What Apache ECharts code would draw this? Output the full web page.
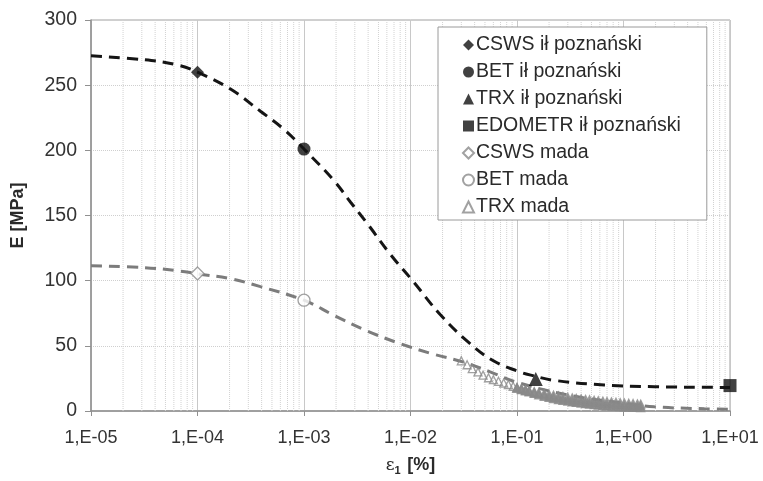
<!DOCTYPE html>
<html><head><meta charset="utf-8">
<script src="https://cdn.jsdelivr.net/npm/echarts@6/dist/echarts.min.js"></script>
<style>html,body{margin:0;padding:0;background:#fff}#c{width:763px;height:481px}</style>
</head><body><div id="c"></div>
<script>
// ---- data ----
const xTickLabels = ['1,E-05','1,E-04','1,E-03','1,E-02','1,E-01','1,E+00','1,E+01'];
const yTicks = [0,50,100,150,200,250,300];

// fitted curve, ił poznański (black dashed)
const fitIlStrain = [1e-5,3.16e-5,6.5e-5,1e-4,2.04e-4,3.9e-4,6.5e-4,1e-3,1.9e-3,2.75e-3,4e-3,6.5e-3,0.0107,0.019,0.0347,0.06,0.102,0.135,0.224,0.66,1.95,8.3,10];
const fitIlE      = [272.5,269.5,265.5,260,247,230,216,201,177,160,143,120,99,74,53,38.5,30.5,27.5,23.5,20,18.6,18.1,18];

// fitted curve, mada (grey dashed)
const fitMadaStrain = [1e-5,3.16e-5,6.5e-5,1e-4,2.04e-4,3.9e-4,1e-3,1.9e-3,3.9e-3,8.1e-3,0.0166,0.0316,0.056,0.1,0.316,1,1.95,5.75,10];
const fitMadaE      = [111.5,110,107.6,105.3,101.5,95.4,85,73.5,61.5,51.5,43.5,37.5,30,22,12,6,3.2,1.7,1.3];

// point measurements
const cswsIl   = [[1e-4,260]];
const betIl    = [[1e-3,201]];
const trxIl    = [[0.15,24.5]];
const edoIl    = [[10,19.5]];
const cswsMada = [[1e-4,105.5]];
const betMada  = [[1e-3,85]];

// TRX mada (dense triaxial readings)
const trxMadaStrain = [0.030,0.034,0.038,0.043,0.048,0.054,0.060,0.067,0.075,0.083,0.092,0.10,0.11,0.12,0.13,0.145,0.16,0.18,0.20,0.22,0.245,0.27,0.30,0.33,0.36,0.40,0.44,0.48,0.53,0.58,0.64,0.70,0.77,0.85,0.93,1.02,1.12,1.23,1.35,1.45];
const trxMadaUpper  = [38.5,35.5,32.5,30,27.5,25.5,24,22.8,21.5,20.3,19,18,17.2,16.4,15.7,14.9,14.2,13.5,12.8,12.2,11.6,11.1,10.6,10.1,9.7,9.3,8.9,8.6,8.2,7.9,7.6,7.3,7.0,6.7,6.4,6.2,5.9,5.7,5.5,5.3];
const trxMadaMid    = [null,null,null,null,null,null,null,null,null,null,null,17.8,16.9,16,15.2,14.2,13.3,12.4,11.6,10.9,10.2,9.6,9.1,8.6,8.1,7.7,7.3,6.9,6.6,6.2,5.9,5.7,5.4,5.1,4.9,4.7,4.5,4.3,4.1,4.0];
const trxMadaLower  = [null,null,null,null,null,null,null,null,null,null,null,17.5,16.5,15.5,14.6,13.5,12.4,11.3,10.4,9.6,8.8,8.2,7.6,7.0,6.6,6.1,5.7,5.3,4.9,4.6,4.3,4.0,3.8,3.6,3.4,3.2,3.0,2.9,2.8,2.7];

// ---- build ----
function pairs(xs, ys){ const out=[]; xs.forEach((x,i)=>{ if(ys[i]!=null) out.push([x,ys[i]]); }); return out; }
// minor vertical gridlines (log 2..9 in each decade), drawn through the axis scale
const minorGrid = [];
for (let e=-5; e<1; e++) for (let m=2; m<=9; m++) {
  const v = m*Math.pow(10,e);
  minorGrid.push([v,0],[v,300],[v,'-']);
}

const FONT = 'Liberation Sans, Arial, sans-serif';
const GREY = '#8a8a8a';
const TXT = '#2a2a2a';
const chart = echarts.init(document.getElementById('c'));
chart.setOption({
  animation:false,
  backgroundColor:'#fff',
  grid:{left:91,right:33,top:20,bottom:68,show:true,borderColor:'#a0a0a0',borderWidth:1},
  legend:{
    orient:'vertical', left:438, top:27,
    data:['CSWS ił poznański','BET ił poznański','TRX ił poznański','EDOMETR ił poznański','CSWS mada','BET mada','TRX mada'],
    backgroundColor:'#fff', borderColor:'#9a9a9a', borderWidth:1,
    padding:[8,26,3,24], itemGap:7, itemWidth:11, itemHeight:11,
    textStyle:{fontFamily:FONT,fontSize:19.5,color:TXT,padding:[0,0,0,-3]}
  },
  xAxis:{
    type:'log', logBase:10, min:1e-5, max:10,
    name:'{e|ε}{s|1}  {t|[%]}', nameLocation:'middle', nameGap:44,
    nameTextStyle:{rich:{
      e:{fontFamily:'DejaVu Serif, serif',fontSize:17,color:TXT},
      s:{fontFamily:FONT,fontSize:11,fontWeight:'bold',color:TXT,padding:[10,0,0,0]},
      t:{fontFamily:FONT,fontSize:18,fontWeight:'bold',color:TXT}}},
    axisLine:{show:true,lineStyle:{color:'#909090',width:1.5}},
    axisTick:{show:true,length:5,lineStyle:{color:'#909090'}},
    axisLabel:{margin:18,fontFamily:FONT,fontSize:18,color:'#333',
      formatter:function(v){const e=Math.round(Math.log10(v));return xTickLabels[e+5]||'';}},
    splitLine:{show:true,lineStyle:{color:'#c8c8c8',width:1}}
  },
  yAxis:{
    type:'value', min:yTicks[0], max:yTicks[yTicks.length-1], interval:50,
    name:'E [MPa]', nameLocation:'middle', nameGap:64,
    nameTextStyle:{fontFamily:FONT,fontSize:18,fontWeight:'bold',color:TXT},
    axisLine:{show:true,lineStyle:{color:'#909090',width:1.5}},
    axisTick:{show:true,length:6,lineStyle:{color:'#909090'}},
    axisLabel:{margin:14,fontFamily:FONT,fontSize:19.5,color:'#333'},
    splitLine:{show:true,lineStyle:{color:'#cfcfcf',type:'dotted',width:1}}
  },
  series:[
    {name:'minorGrid',type:'line',data:minorGrid,showSymbol:false,silent:true,connectNulls:false,z:0,
     lineStyle:{color:'#d2d2d2',width:1,type:'dotted'}},
    {name:'fitIl',type:'line',data:pairs(fitIlStrain,fitIlE),smooth:0.4,showSymbol:false,silent:true,z:3,
     lineStyle:{color:'#151515',width:3,type:[11,7]}},
    {name:'fitMada',type:'line',data:pairs(fitMadaStrain,fitMadaE),smooth:0.4,showSymbol:false,silent:true,z:2,
     lineStyle:{color:'#7c7c7c',width:3,type:[11,7]}},
    {name:'TRX mada',type:'scatter',data:pairs(trxMadaStrain,trxMadaUpper),symbol:'triangle',symbolSize:8,z:4,
     itemStyle:{color:'rgba(255,255,255,0)',borderColor:GREY,borderWidth:1.3}},
    {name:'TRX mada',type:'scatter',data:pairs(trxMadaStrain,trxMadaMid),symbol:'triangle',symbolSize:8,z:4,
     itemStyle:{color:GREY,borderColor:GREY,borderWidth:1.3}},
    {name:'TRX mada',type:'scatter',data:pairs(trxMadaStrain,trxMadaLower),symbol:'triangle',symbolSize:8,z:4,
     itemStyle:{color:GREY,borderColor:GREY,borderWidth:1.3}},
    {name:'CSWS ił poznański',type:'scatter',data:cswsIl,symbol:'diamond',symbolSize:13,z:5,itemStyle:{color:'#111'}},
    {name:'BET ił poznański',type:'scatter',data:betIl,symbol:'circle',symbolSize:13,z:5,itemStyle:{color:'#111'}},
    {name:'TRX ił poznański',type:'scatter',data:trxIl,symbol:'triangle',symbolSize:14,z:5,itemStyle:{color:'#111'}},
    {name:'EDOMETR ił poznański',type:'scatter',data:edoIl,symbol:'rect',symbolSize:13,z:5,itemStyle:{color:'#111'}},
    {name:'CSWS mada',type:'scatter',data:cswsMada,symbol:'diamond',symbolSize:13,z:5,itemStyle:{color:'#fff',borderColor:GREY,borderWidth:1.3}},
    {name:'BET mada',type:'scatter',data:betMada,symbol:'circle',symbolSize:12,z:5,itemStyle:{color:'#fff',borderColor:GREY,borderWidth:1.3}}
  ]
});
</script></body></html>
